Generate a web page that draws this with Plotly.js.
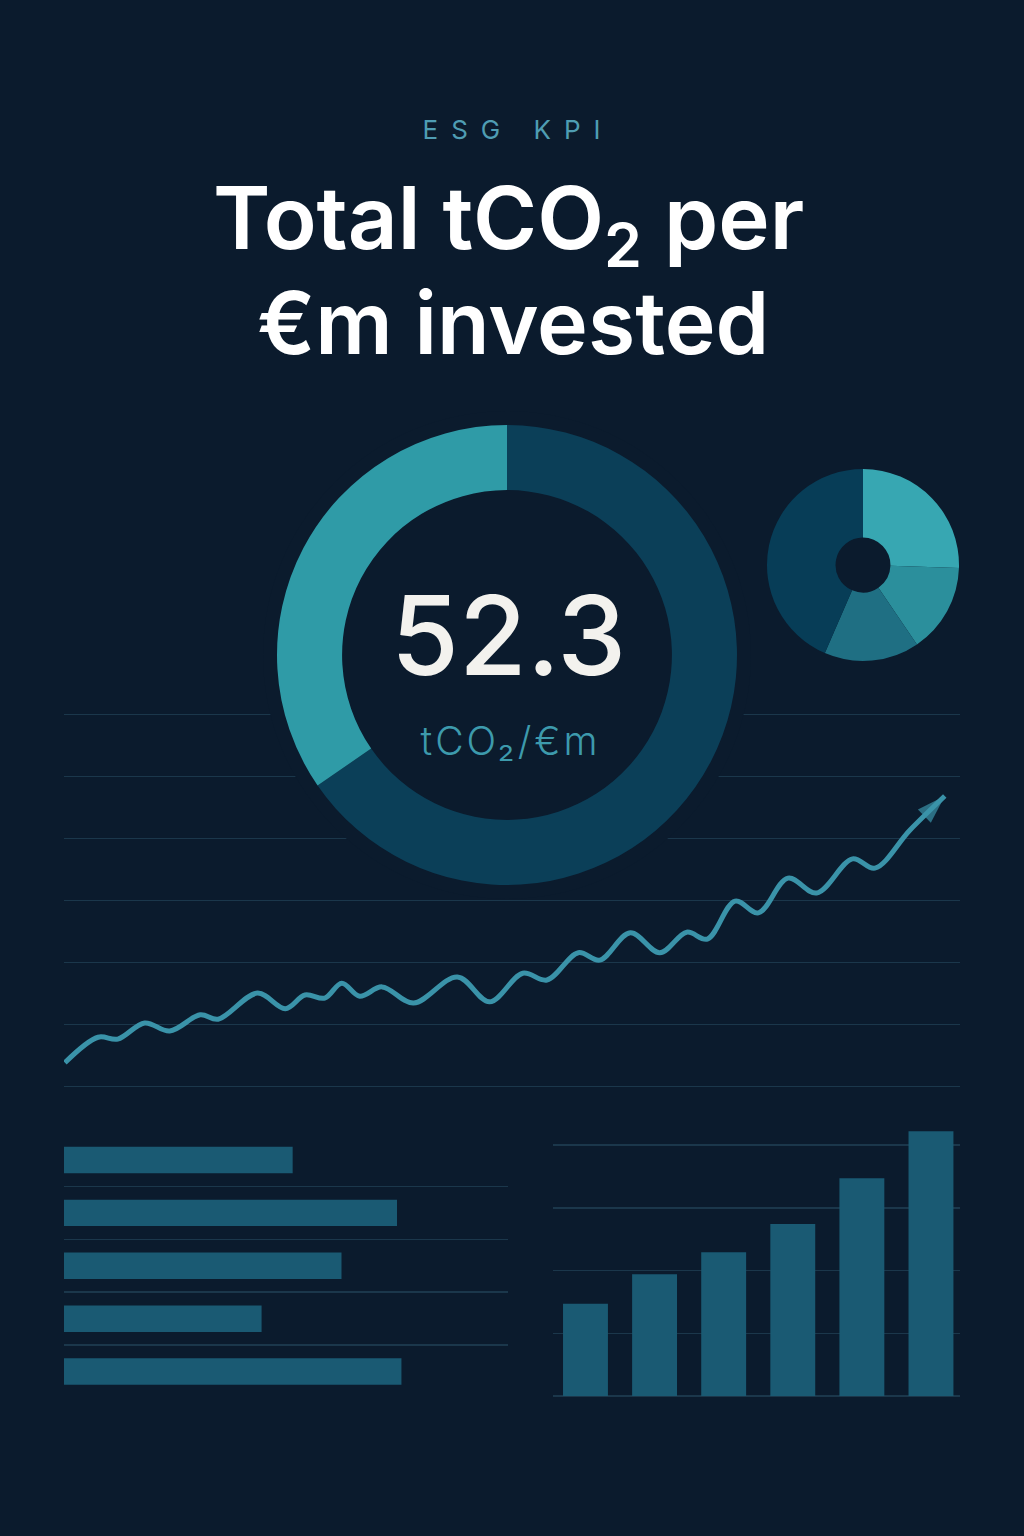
<!DOCTYPE html>
<html>
<head>
<meta charset="utf-8">
<script src="https://cdn.plot.ly/plotly-3.0.1.min.js"></script>
<style>
  html, body { margin: 0; padding: 0; background: #0b1b2d; }
  #chart { width: 1024px; height: 1536px; }
  .annotation[data-index="0"] text { letter-spacing: 13px; }
  .annotation[data-index="4"] text { letter-spacing: 3px; }
</style>
</head>
<body>
<div id="chart"></div>
<script>
// ---- data ----
const kpiValue = '52.3';
const kpiUnit = 'tCO₂/€m';
const donutLabels = ['Remaining', 'Attributed'];
const donutValues = [65.4, 34.6];
const maskValue = [1];
const mixLabels = ['Scope 1', 'Scope 2', 'Scope 3 up', 'Scope 3 down'];
const mixValues = [25.5, 15, 16, 43.5];
const trendX = [0.1, 3.8, 6.0, 9.0, 11.8, 15.2, 17.2, 21.6, 24.7, 26.9, 29.1, 31.0, 33.0, 35.5, 39.0, 43.9, 47.5,
                51.2, 53.9, 57.4, 59.8, 63.2, 66.5, 69.5, 71.8, 74.9, 77.5, 80.8, 84.0, 88.0, 90.5, 94.4, 98.3];
const trendY = [3.9, 8.0, 7.7, 10.3, 9.0, 11.6, 10.9, 15.1, 12.6, 14.8, 14.3, 16.7, 14.6, 16.1, 13.5, 17.7, 13.7,
                18.3, 17.2, 21.6, 20.4, 24.8, 21.6, 24.9, 23.8, 29.9, 28.0, 33.6, 31.2, 36.7, 35.2, 41.3, 46.8];
const sectorLabels = ['Energy', 'Materials', 'Industrials', 'Utilities', 'Real estate'];
const sectorValues = [51.5, 75, 62.5, 44.5, 76];
const yearLabels = ['2019', '2020', '2021', '2022', '2023', '2024'];
const yearValues = [14.7, 19.4, 22.9, 27.4, 34.7, 42.2];

// ---- style ----
const BG = '#0b1b2d';
const GRID = '#1b374b';
const BAR = '#1a5a73';
const LINE = '#3a93a9';

const arrowSizes = trendX.map((_, i) => (i === trendX.length - 1 ? 30 : 0));

const traces = [
  {
    type: 'scatter', mode: 'lines+markers', x: trendX, y: trendY, xaxis: 'x', yaxis: 'y',
    line: { color: LINE, width: 5, shape: 'spline', smoothing: 1 },
    marker: { symbol: 'arrow', size: arrowSizes, angleref: 'previous', color: LINE, line: { width: 0 } },
    hoverinfo: 'none'
  },
  {
    type: 'bar', orientation: 'h', x: sectorValues, y: sectorLabels, xaxis: 'x2', yaxis: 'y2',
    width: 0.5, marker: { color: BAR, line: { width: 0 } }, hoverinfo: 'none'
  },
  {
    type: 'bar', x: yearLabels, y: yearValues, xaxis: 'x3', yaxis: 'y3',
    width: 0.65, marker: { color: BAR, line: { width: 0 } }, hoverinfo: 'none'
  },
  {
    type: 'pie', values: maskValue, labels: ['mask'], sort: false,
    domain: { x: [0.25684, 0.73340], y: [0.41471, 0.73242] },
    marker: { colors: [BG], line: { width: 0 } }, textinfo: 'none', hoverinfo: 'none'
  },
  {
    type: 'pie', values: donutValues, labels: donutLabels, sort: false, direction: 'clockwise', rotation: 0,
    hole: 0.717, domain: { x: [0.27051, 0.71973], y: [0.42383, 0.72331] },
    marker: { colors: ['#0b3f58', '#2f9ba7'], line: { width: 0 } }, textinfo: 'none', hoverinfo: 'none'
  },
  {
    type: 'pie', values: mixValues, labels: mixLabels, sort: false, direction: 'clockwise', rotation: 0,
    hole: 0.286, domain: { x: [0.74902, 0.93652], y: [0.56966, 0.69466] },
    marker: { colors: ['#37a7b2', '#2b8f9c', '#1f6f83', '#073d57'], line: { width: 0 } },
    textinfo: 'none', hoverinfo: 'none'
  }
];

const hidden = { showticklabels: false, ticks: '', showline: false, zeroline: false, fixedrange: true };

const layout = {
  width: 1024, height: 1536,
  margin: { l: 0, r: 0, t: 0, b: 0, pad: 0 },
  paper_bgcolor: BG, plot_bgcolor: 'rgba(0,0,0,0)',
  showlegend: false,
  xaxis: Object.assign({}, hidden, { domain: [0.0625, 0.9375], range: [0, 100], showgrid: false, anchor: 'y' }),
  yaxis: Object.assign({}, hidden, { domain: [0.2883, 0.5392], range: [-1, 61], tick0: 0, dtick: 10,
    showgrid: true, gridcolor: GRID, gridwidth: 1, anchor: 'x' }),
  xaxis2: Object.assign({}, hidden, { domain: [0.0625, 0.49609], range: [0, 100], showgrid: false, anchor: 'y2' }),
  yaxis2: Object.assign({}, hidden, { domain: [0.08809, 0.26029], type: 'category', categoryorder: 'array',
    categoryarray: sectorLabels, range: [4.55, -0.45], tickson: 'boundaries',
    showgrid: true, gridcolor: GRID, gridwidth: 1.5, anchor: 'x2' }),
  xaxis3: Object.assign({}, hidden, { domain: [0.54004, 0.9375], type: 'category', range: [-0.47, 5.42],
    showgrid: false, anchor: 'y3' }),
  yaxis3: Object.assign({}, hidden, { domain: [0.09115, 0.26758], range: [0, 43.2], tick0: 0, dtick: 10,
    showgrid: true, gridcolor: GRID, gridwidth: 1.5, zeroline: true, zerolinecolor: GRID, zerolinewidth: 1.5,
    anchor: 'x3' }),
  annotations: [
    { text: 'ESG KPI', xref: 'paper', yref: 'paper', x: 0.5059, y: 0.9157, xanchor: 'center', yanchor: 'middle',
      showarrow: false, font: { family: 'Inter, Lato, sans-serif', size: 26, color: '#4f9db3', weight: 400 } },
    { text: 'Total tCO<sub>2</sub> per', xref: 'paper', yref: 'paper', x: 0.497, y: 0.8548, xanchor: 'center', yanchor: 'middle',
      showarrow: false, font: { family: 'Inter, Lato, sans-serif', size: 87, color: '#ffffff', weight: 600 } },
    { text: '€m invested', xref: 'paper', yref: 'paper', x: 0.501, y: 0.7895, xanchor: 'center', yanchor: 'middle',
      showarrow: false, font: { family: 'Inter, Lato, sans-serif', size: 86, color: '#ffffff', weight: 600 } },
    { text: kpiValue, xref: 'paper', yref: 'paper', x: 0.4961, y: 0.58659, xanchor: 'center', yanchor: 'middle',
      showarrow: false, font: { family: 'Inter, Lato, sans-serif', size: 110, color: '#f3f2ee', weight: 500 } },
    { text: kpiUnit, xref: 'paper', yref: 'paper', x: 0.4985, y: 0.5179, xanchor: 'center', yanchor: 'middle',
      showarrow: false, font: { family: 'Inter, Lato, sans-serif', size: 39, color: '#3d9aac', weight: 300 } }
  ]
};

Plotly.newPlot('chart', traces, layout, { staticPlot: true, displayModeBar: false });
</script>
</body>
</html>
